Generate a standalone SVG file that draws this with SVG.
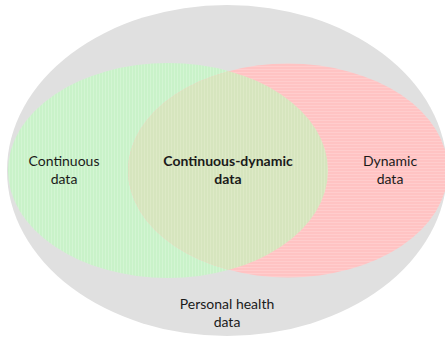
<svg xmlns="http://www.w3.org/2000/svg" width="445" height="337" viewBox="0 0 445 337">
<defs>
<pattern id="pg" width="3" height="3" patternUnits="userSpaceOnUse">
<rect width="3" height="3" fill="#c9f2c9"/>
<rect width="1" height="3" fill="#d3f5d3"/>
</pattern>
<pattern id="pr" width="3" height="3" patternUnits="userSpaceOnUse">
<rect width="3" height="3" fill="#ffc3c3"/>
<rect width="3" height="1" fill="#ffcdcd"/>
</pattern>
<pattern id="po" width="3" height="3" patternUnits="userSpaceOnUse">
<rect width="3" height="3" fill="#d6e5be"/>
<rect width="1" height="3" fill="#dde9c6"/>
</pattern>
<clipPath id="clipRed"><ellipse cx="288" cy="170.5" rx="160" ry="107"/></clipPath>
</defs>
<style>
text{font-family:Lato,"Open Sans","Liberation Sans",sans-serif;font-size:14px;fill:#1a1a1a;text-anchor:middle}
.b{font-weight:bold}
</style>
<rect width="445" height="337" fill="#ffffff"/>
<g id="personal-health">
<ellipse cx="227" cy="170.5" rx="220" ry="165.5" fill="#e0e0e0"/>
<text x="227" y="309">Personal health</text>
<text x="227" y="327">data</text>
</g>
<g id="continuous">
<ellipse cx="168" cy="170.5" rx="160" ry="107.5" fill="url(#pg)"/>
</g>
<g id="dynamic">
<ellipse cx="288" cy="170.5" rx="160" ry="107" fill="url(#pr)"/>
</g>
<g id="continuous-dynamic">
<ellipse cx="168" cy="170.5" rx="160" ry="107.5" fill="url(#po)" clip-path="url(#clipRed)"/>
</g>
<g id="labels">
<text x="64" y="166">Continuous</text>
<text x="64" y="184">data</text>
<text class="b" x="228" y="166">Continuous-dynamic</text>
<text class="b" x="228" y="184">data</text>
<text x="390" y="166">Dynamic</text>
<text x="390" y="184">data</text>
</g>
<g id="connectors"></g>
</svg>
